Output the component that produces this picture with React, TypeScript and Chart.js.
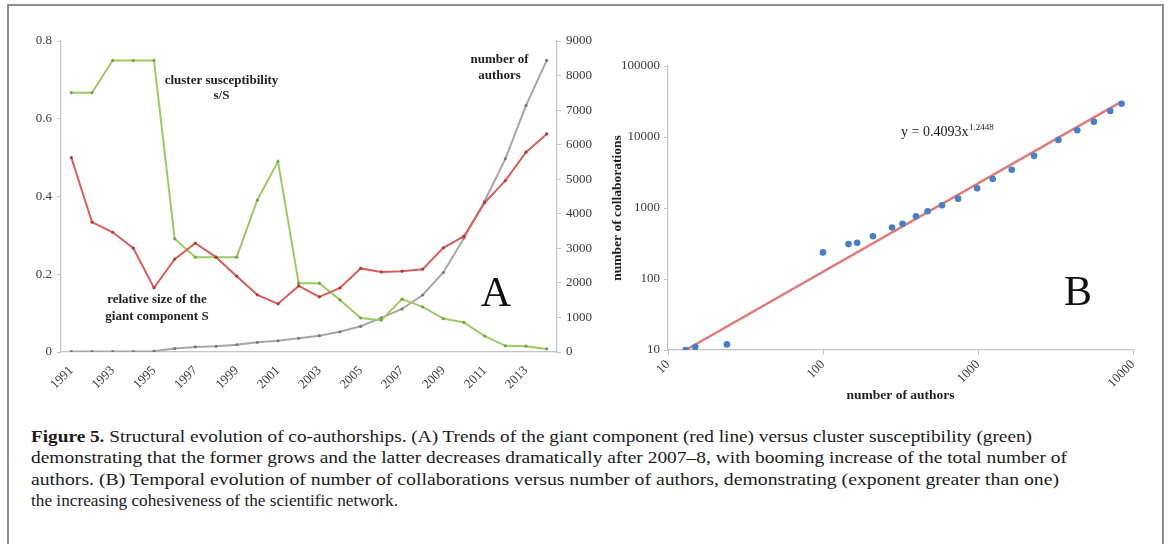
import React, { useEffect, useRef } from 'react';
import { Chart, registerables } from 'chart.js';

Chart.register(...registerables);

// ---------- Panel A data ----------
const years = ['1991','1992','1993','1994','1995','1996','1997','1998','1999','2000','2001','2002','2003','2004','2005','2006','2007','2008','2009','2010','2011','2012','2013','2014'];
const giantComponent = [0.50,0.334,0.308,0.267,0.165,0.239,0.280,0.244,0.195,0.147,0.124,0.170,0.142,0.165,0.215,0.206,0.208,0.213,0.268,0.298,0.384,0.441,0.514,0.561];
const susceptibility = [0.667,0.667,0.75,0.75,0.75,0.291,0.244,0.244,0.244,0.391,0.490,0.177,0.177,0.134,0.0875,0.082,0.136,0.116,0.086,0.076,0.041,0.016,0.015,0.008];
const numAuthors = [13,13,15,15,24,100,146,166,210,279,326,398,473,586,744,987,1245,1650,2300,3300,4370,5590,7130,8440];

// ---------- Panel B data ----------
const bAuthors = [13,15,24,100,146,166,210,279,326,398,473,586,744,987,1245,1650,2300,3300,4370,5590,7130,8440];
const bCollaborations = [10,11,12,237,310,324,401,531,598,765,900,1090,1355,1890,2560,3460,5430,9100,12450,16450,23230,29400];
const fitX = [13, 8440];
const fitY = [10, 31500];
const bXTicks = [10, 100, 1000, 10000];
const bYTicks = [10, 100, 1000, 10000, 100000];

// ---------- Caption ----------
const captionBold = 'Figure 5.';
const captionLines = [
  ' Structural evolution of co-authorships. (A) Trends of the giant component (red line) versus cluster susceptibility (green)',
  'demonstrating that the former grows and the latter decreases dramatically after 2007\u20138, with booming increase of the total number of',
  'authors. (B) Temporal evolution of number of collaborations versus number of authors, demonstrating (exponent greater than one)',
  'the increasing cohesiveness of the scientific network.',
];
const captionWidths = [1001, 1036, 1028, 367];

const SERIF = '"Liberation Serif", "DejaVu Serif", serif';
const AXIS = '#c4c4c4';
const TICK = '#3a3a3a';
const RED = '#d6605c';
const RED_DOT = '#b83a36';
const GREEN = '#9ccb66';
const GREEN_DOT = '#74a83e';
const GRAY = '#a6a6a6';
const GRAY_DOT = '#7a7a7a';
const BLUE = '#4a7fc6';
const FIT = '#e07c78';

const A_LEFT = 15, A_TOP = 25, A_W = 590, A_H = 375;
const B_LEFT = 600, B_TOP = 25, B_W = 560, B_H = 390;

const tickFont = { family: SERIF, size: 13 };

function drawCentered(ctx: CanvasRenderingContext2D, text: string, x: number, y: number) {
  ctx.textAlign = 'center';
  ctx.textBaseline = 'middle';
  ctx.fillText(text, x, y);
}

const annotA = {
  id: 'annotA',
  afterDraw(chart: any) {
    const ctx = chart.ctx as CanvasRenderingContext2D;
    ctx.save();
    ctx.fillStyle = '#1e1e1e';
    ctx.font = `bold 13px ${SERIF}`;
    drawCentered(ctx, 'cluster susceptibility', 221.5 - A_LEFT, 81 - A_TOP);
    drawCentered(ctx, 's/S', 221.5 - A_LEFT, 96 - A_TOP);
    drawCentered(ctx, 'number of', 499.5 - A_LEFT, 59.5 - A_TOP);
    drawCentered(ctx, 'authors', 499.5 - A_LEFT, 75.5 - A_TOP);
    drawCentered(ctx, 'relative size of the', 157 - A_LEFT, 299.5 - A_TOP);
    drawCentered(ctx, 'giant component S', 157 - A_LEFT, 316.5 - A_TOP);
    ctx.font = `42px ${SERIF}`;
    ctx.fillStyle = '#111';
    ctx.textAlign = 'center';
    ctx.textBaseline = 'alphabetic';
    ctx.fillText('A', 496 - A_LEFT, 306 - A_TOP);
    ctx.restore();
  },
};

const annotB = {
  id: 'annotB',
  afterDraw(chart: any) {
    const ctx = chart.ctx as CanvasRenderingContext2D;
    ctx.save();
    ctx.fillStyle = '#1e1e1e';
    ctx.textAlign = 'left';
    ctx.textBaseline = 'alphabetic';
    ctx.font = `14px ${SERIF}`;
    const main = 'y = 0.4093x';
    const x0 = 901 - B_LEFT, base = 136 - B_TOP;
    ctx.fillText(main, x0, base);
    const w = ctx.measureText(main).width;
    ctx.font = `9px ${SERIF}`;
    ctx.fillText('1.2448', x0 + w + 0.5, base - 6);
    ctx.font = `42px ${SERIF}`;
    ctx.fillStyle = '#111';
    ctx.textAlign = 'center';
    ctx.fillText('B', 1078 - B_LEFT, 305 - B_TOP);
    ctx.restore();
  },
};

export default function App() {
  const refA = useRef<HTMLCanvasElement>(null);
  const refB = useRef<HTMLCanvasElement>(null);
  const lineRefs = useRef<(HTMLSpanElement | null)[]>([]);

  useEffect(() => {
    const lineDs = (data: number[], color: string, dot: string, axis: string) => ({
      data,
      yAxisID: axis,
      borderColor: color,
      borderWidth: 2,
      pointRadius: 1.6,
      pointBackgroundColor: dot,
      pointBorderWidth: 0,
      tension: 0,
    });

    const chartA = new Chart(refA.current!, {
      type: 'line',
      data: {
        labels: years,
        datasets: [
          lineDs(giantComponent, RED, RED_DOT, 'y') as any,
          lineDs(susceptibility, GREEN, GREEN_DOT, 'y') as any,
          lineDs(numAuthors, GRAY, GRAY_DOT, 'y1') as any,
        ],
      },
      options: {
        animation: false,
        responsive: false,
        devicePixelRatio: 1,
        events: [],
        layout: { padding: { top: 16, left: 0, right: 0, bottom: 0 } },
        plugins: { legend: { display: false }, tooltip: { enabled: false } },
        scales: {
          x: {
            type: 'category',
            offset: true,
            grid: { display: false },
            border: { display: true, color: AXIS, width: 1.2 },
            ticks: {
              autoSkip: false,
              minRotation: 45,
              maxRotation: 45,
              padding: 3,
              font: tickFont,
              color: TICK,
              callback: (_v: any, i: number) => (i % 2 === 0 ? years[i] : ''),
            },
            afterFit: (s: any) => { s.height = 48; },
          },
          y: {
            position: 'left',
            min: 0,
            max: 0.8,
            grid: { display: true, drawOnChartArea: false, tickLength: 4, color: AXIS },
            border: { display: true, color: AXIS, width: 1.2 },
            ticks: { stepSize: 0.2, padding: 5, font: tickFont, color: TICK, callback: (v: any) => String(Math.round(v * 10) / 10) },
            afterFit: (s: any) => { s.width = 46; },
          },
          y1: {
            position: 'right',
            min: 0,
            max: 9000,
            grid: { display: true, drawOnChartArea: false, tickLength: 4, color: AXIS },
            border: { display: true, color: AXIS, width: 1.2 },
            ticks: { stepSize: 1000, padding: 5, font: tickFont, color: TICK, callback: (v: any) => String(v) },
            afterFit: (s: any) => { s.width = 48; },
          },
        },
      } as any,
      plugins: [annotA],
    });

    const chartB = new Chart(refB.current!, {
      type: 'scatter',
      data: {
        datasets: [
          {
            data: bAuthors.map((x, i) => ({ x, y: bCollaborations[i] })),
            backgroundColor: BLUE,
            borderWidth: 0,
            pointRadius: 3.3,
          } as any,
          {
            data: fitX.map((x, i) => ({ x, y: fitY[i] })),
            showLine: true,
            borderColor: FIT,
            borderWidth: 2.5,
            pointRadius: 0,
          } as any,
        ],
      },
      options: {
        animation: false,
        responsive: false,
        devicePixelRatio: 1,
        events: [],
        layout: { padding: { top: 41, right: 27, left: 0, bottom: 0 } },
        plugins: { legend: { display: false }, tooltip: { enabled: false } },
        scales: {
          x: {
            type: 'logarithmic',
            min: 10,
            max: 10000,
            afterBuildTicks: (s: any) => { s.ticks = bXTicks.map((v) => ({ value: v })); },
            grid: { display: true, drawOnChartArea: false, tickLength: 5, color: AXIS },
            border: { display: true, color: AXIS, width: 1.2 },
            ticks: {
              autoSkip: false,
              minRotation: 45,
              maxRotation: 45,
              padding: 2,
              font: tickFont,
              color: TICK,
              callback: (v: any) => String(v),
            },
            title: {
              display: true,
              text: 'number of authors',
              font: { family: SERIF, size: 13.5, weight: 'bold' },
              color: '#1e1e1e',
              padding: { top: 0, bottom: 11 },
            },
            afterFit: (s: any) => { s.height = 65; },
          },
          y: {
            type: 'logarithmic',
            min: 10,
            max: 100000,
            afterBuildTicks: (s: any) => { s.ticks = bYTicks.map((v) => ({ value: v })); },
            grid: { display: true, drawOnChartArea: false, tickLength: 4, color: AXIS },
            border: { display: true, color: AXIS, width: 1.2 },
            ticks: { padding: 4, font: tickFont, color: TICK, callback: (v: any) => String(v) },
            title: {
              display: true,
              text: 'number of collaborations',
              font: { family: SERIF, size: 13.5, weight: 'bold' },
              color: '#1e1e1e',
              padding: { top: 9, bottom: 0 },
            },
            afterFit: (s: any) => { s.width = 68; },
          },
        },
      } as any,
      plugins: [annotB],
    });

    const fit = () => {
      lineRefs.current.forEach((el, i) => {
        if (!el) return;
        el.style.transform = 'none';
        const w = el.getBoundingClientRect().width;
        if (w > 0) el.style.transform = `scaleX(${captionWidths[i] / w})`;
      });
    };
    fit();
    (document as any).fonts?.ready?.then(() => { fit(); chartA.update(); chartB.update(); });

    return () => {
      chartA.destroy();
      chartB.destroy();
    };
  }, []);

  return (
    <div style={{ position: 'absolute', left: 0, top: 0, width: 1171, height: 544, background: '#fff', overflow: 'hidden' }}>
      <div
        style={{
          position: 'absolute', left: 7, top: 4, width: 1157, height: 600, boxSizing: 'border-box',
          border: '2px solid #8e8e8e', borderBottom: 'none',
        }}
      />
      <canvas ref={refA} width={A_W} height={A_H} style={{ position: 'absolute', left: A_LEFT, top: A_TOP, width: A_W, height: A_H }} />
      <canvas ref={refB} width={B_W} height={B_H} style={{ position: 'absolute', left: B_LEFT, top: B_TOP, width: B_W, height: B_H }} />
      <div style={{ position: 'absolute', left: 31, top: 426, fontFamily: SERIF, fontSize: 17, lineHeight: '21.3px', color: '#1a1a1a' }}>
        {captionLines.map((line, i) => (
          <div key={i} style={{ whiteSpace: 'nowrap', height: 21.3 }}>
            <span
              ref={(el) => { lineRefs.current[i] = el; }}
              style={{ display: 'inline-block', transformOrigin: 'left center' }}
            >
              {i === 0 && <b>{captionBold}</b>}
              {line}
            </span>
          </div>
        ))}
      </div>
    </div>
  );
}
